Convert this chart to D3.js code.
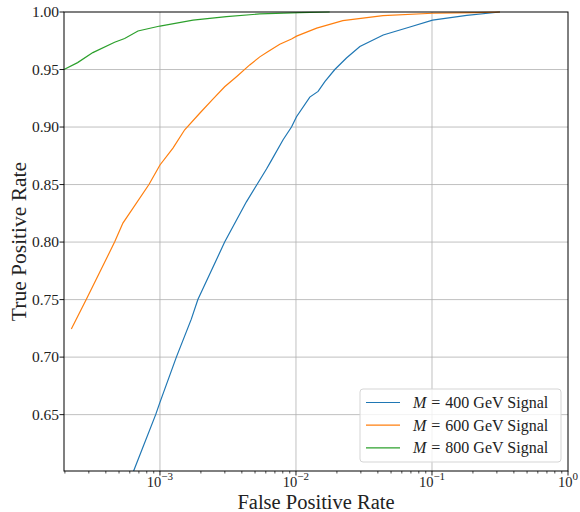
<!DOCTYPE html>
<html lang="en">
<head>
    <meta charset="UTF-8">
    <title>ROC curves</title>
    <script src="https://cdnjs.cloudflare.com/ajax/libs/d3/7.8.5/d3.min.js"></script>
    <style>
        body { margin: 0; padding: 0; background: #fff; }
        text { font-family: "Liberation Serif", "DejaVu Serif", serif; fill: #222; }
        .grid line { stroke: #b0b0b0; stroke-width: 0.8px; }
    </style>
</head>
<body>
    <div id="chart"></div>

    <script>
        // false positive rate / true positive rate for each signal mass
        const fpr400 = [6.4e-4, 9.3e-4, 9.95e-4, 1.32e-3, 1.7e-3, 1.9e-3, 2.99e-3, 4.32e-3, 5.17e-3, 6.07e-3,
                        6.6e-3, 8.04e-3, 9.27e-3, 1.009e-2, 1.264e-2, 1.454e-2, 1.63e-2, 1.93e-2, 2.35e-2, 2.95e-2,
                        4.38e-2, 6.88e-2, 0.101, 0.18, 0.316];
        const tpr400 = [0.601, 0.65, 0.66, 0.70, 0.733, 0.75, 0.80, 0.835, 0.85, 0.8635,
                        0.871, 0.889, 0.900, 0.909, 0.926, 0.931, 0.9395, 0.950, 0.960, 0.970,
                        0.980, 0.987, 0.993, 0.997, 1.0];

        const fpr600 = [2.23e-4, 2.87e-4, 4.64e-4, 5.34e-4, 8.3e-4, 1.0e-3, 1.246e-3, 1.52e-3,
                        1.96e-3, 2.44e-3, 2.99e-3, 3.67e-3, 4.57e-3, 5.42e-3, 6.2e-3, 7.6e-3, 9.27e-3, 1.01e-2, 1.42e-2,
                        2.21e-2, 4.36e-2, 0.101, 0.214, 0.316];
        const tpr600 = [0.7245, 0.75, 0.80, 0.8165, 0.85, 0.867, 0.8817, 0.8976,
                        0.912, 0.924, 0.935, 0.944, 0.954, 0.961, 0.9655, 0.972, 0.9765, 0.979, 0.986,
                        0.9925, 0.9968, 0.9989, 0.9994, 1.0];

        const fpr800 = [1.97e-4, 2.48e-4, 3.21e-4, 4.64e-4, 5.5e-4, 6.89e-4, 1.0e-3, 1.75e-3, 3.08e-3, 5.42e-3, 1.07e-2, 1.77e-2];
        const tpr800 = [0.950, 0.956, 0.9647, 0.9737, 0.977, 0.9835, 0.9878, 0.993, 0.996, 0.9983, 0.9995, 1.0];

        const seriesNames = ["400", "600", "800"];
        const colors = ["#1f77b4", "#ff7f0e", "#2ca02c"];
        const yTicks = [0.65, 0.70, 0.75, 0.80, 0.85, 0.90, 0.95, 1.00];
        const xTicks = [1e-3, 1e-2, 1e-1, 1];
        const xTickExp = ["\u22123", "\u22122", "\u22121", "0"];

        const series = [
            { name: seriesNames[0], x: fpr400, y: tpr400 },
            { name: seriesNames[1], x: fpr600, y: tpr600 },
            { name: seriesNames[2], x: fpr800, y: tpr800 }
        ];

        const width = 580, height = 512;
        const margin = { top: 12, right: 12, bottom: 41, left: 64 };
        const iw = width - margin.left - margin.right;
        const ih = height - margin.top - margin.bottom;

        const svg = d3.select("#chart").append("svg")
            .attr("width", width)
            .attr("height", height);

        const x = d3.scaleLog().domain([1.97e-4, 1]).range([0, iw]);
        const y = d3.scaleLinear().domain([0.601, 1.0]).range([ih, 0]);

        const g = svg.append("g").attr("transform", `translate(${margin.left},${margin.top})`);

        // gridlines
        const grid = g.append("g").attr("class", "grid");
        grid.selectAll(".gx").data(xTicks.slice(0, 3)).enter().append("line")
            .attr("x1", d => x(d)).attr("x2", d => x(d))
            .attr("y1", 0).attr("y2", ih);
        grid.selectAll(".gy").data(yTicks.slice(0, 7)).enter().append("line")
            .attr("x1", 0).attr("x2", iw)
            .attr("y1", d => y(d)).attr("y2", d => y(d));

        // curves
        const line = d3.line()
            .x(d => x(d[0]))
            .y(d => y(d[1]));

        g.append("g").selectAll("path")
            .data(series)
            .enter().append("path")
            .attr("d", d => line(d3.zip(d.x, d.y)))
            .attr("fill", "none")
            .attr("stroke", (d, i) => colors[i])
            .attr("stroke-width", 1.2);

        // frame
        g.append("rect")
            .attr("width", iw).attr("height", ih)
            .attr("fill", "none").attr("stroke", "#000").attr("stroke-width", 1);

        // x axis ticks
        const minor = [];
        for (let e = -4; e < 0; e++) {
            for (let m = 2; m <= 9; m++) {
                const v = m * Math.pow(10, e);
                if (v >= x.domain()[0]) minor.push(v);
            }
        }
        g.selectAll(".xminor").data(minor).enter().append("line")
            .attr("x1", d => x(d)).attr("x2", d => x(d))
            .attr("y1", ih).attr("y2", ih + 2.5)
            .attr("stroke", "#000").attr("stroke-width", 0.7);
        g.selectAll(".xmajor").data(xTicks).enter().append("line")
            .attr("x1", d => x(d)).attr("x2", d => x(d))
            .attr("y1", ih).attr("y2", ih + 4.5)
            .attr("stroke", "#000").attr("stroke-width", 0.9);

        const xl = g.selectAll(".xlab").data(xTicks).enter().append("text")
            .attr("x", d => x(d))
            .attr("y", ih + 15.5)
            .attr("text-anchor", "middle")
            .style("font-size", "14.5px");
        xl.append("tspan").text("10");
        xl.append("tspan")
            .attr("dy", -7)
            .style("font-size", "11px")
            .text((d, i) => xTickExp[i]);

        // y axis ticks
        g.selectAll(".ytick").data(yTicks).enter().append("line")
            .attr("x1", -4.5).attr("x2", 0)
            .attr("y1", d => y(d)).attr("y2", d => y(d))
            .attr("stroke", "#000").attr("stroke-width", 0.9);
        g.selectAll(".ylab").data(yTicks).enter().append("text")
            .attr("x", -5)
            .attr("y", d => y(d))
            .attr("dy", "0.34em")
            .attr("text-anchor", "end")
            .style("font-size", "15.5px")
            .text(d => d3.format(".2f")(d));

        // axis labels
        svg.append("text")
            .attr("x", margin.left + iw / 2)
            .attr("y", height - 3.5)
            .attr("text-anchor", "middle")
            .style("font-size", "20.5px")
            .text("False Positive Rate");

        svg.append("text")
            .attr("transform", `translate(26,${margin.top + ih / 2}) rotate(-90)`)
            .attr("text-anchor", "middle")
            .style("font-size", "21.5px")
            .text("True Positive Rate");

        // legend
        const lg = svg.append("g").attr("transform", "translate(360,389)");
        lg.append("rect")
            .attr("width", 201).attr("height", 73)
            .attr("rx", 3)
            .attr("fill", "#fff").attr("fill-opacity", 0.8)
            .attr("stroke", "#d5d5d5").attr("stroke-width", 1);
        const rows = lg.selectAll(".row").data(series).enter().append("g")
            .attr("transform", (d, i) => `translate(0,${13.5 + i * 22.7})`);
        rows.append("line")
            .attr("x1", 6).attr("x2", 40)
            .attr("stroke", (d, i) => colors[i])
            .attr("stroke-width", 1.2);
        const lt = rows.append("text")
            .attr("x", 53)
            .attr("dy", "0.34em")
            .style("font-size", "16px");
        lt.append("tspan").style("font-style", "italic").text("M");
        lt.append("tspan").attr("dx", 5).text("=");
        lt.append("tspan").attr("dx", 5).text(d => d.name + " GeV Signal");
    </script>
</body>
</html>
